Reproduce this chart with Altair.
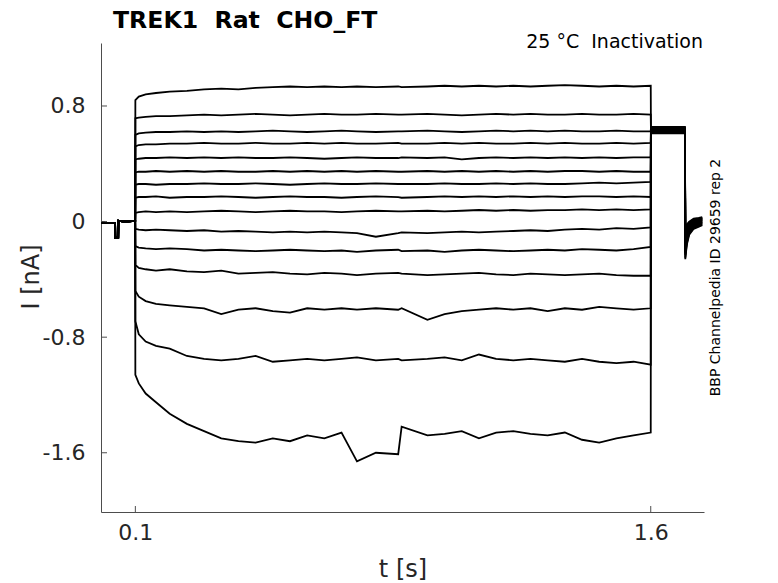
import altair as alt
import pandas as pd

TITLE = "TREK1\u00a0\u00a0Rat\u00a0\u00a0CHO_FT"
NOTE = "25\u00a0°C\u00a0\u00a0Inactivation"
SIDE = "BBP Channelpedia ID 29659 rep 2"

X_TICKS = [0.1, 1.6]
Y_TICKS = [0.8, 0, -0.8, -1.6]

# shared pre-step segment (holding)
T_PRE = [0.0, 0.02, 0.041, 0.0415, 0.050, 0.0505, 0.07, 0.0995]
V_PRE = [-0.005, -0.01, -0.01, -0.11, -0.11, 0.005, 0.0, 0.005]

# test step
T_STEP = [0.100, 0.110, 0.130, 0.160, 0.200, 0.250, 0.300, 0.350, 0.400, 0.450,
          0.500, 0.550, 0.600, 0.650, 0.700, 0.745, 0.800, 0.865, 0.875, 0.950,
          1.000, 1.050, 1.100, 1.150, 1.200, 1.250, 1.300, 1.350, 1.400, 1.450,
          1.500, 1.550, 1.600]

I1 = [0.84, 0.865, 0.88, 0.89, 0.90, 0.905, 0.915, 0.92, 0.915, 0.925,
      0.93, 0.935, 0.93, 0.935, 0.93, 0.935, 0.93, 0.935, 0.93, 0.935,
      0.94, 0.935, 0.94, 0.935, 0.94, 0.935, 0.94, 0.945, 0.94, 0.935,
      0.94, 0.935, 0.94]
I2 = [0.715, 0.72, 0.725, 0.73, 0.73, 0.735, 0.74, 0.735, 0.74, 0.745,
      0.74, 0.735, 0.74, 0.745, 0.74, 0.74, 0.745, 0.74, 0.74, 0.745,
      0.74, 0.735, 0.74, 0.745, 0.74, 0.745, 0.74, 0.74, 0.745, 0.74,
      0.74, 0.745, 0.74]
I3 = [0.60, 0.61, 0.615, 0.62, 0.62, 0.625, 0.62, 0.625, 0.62, 0.625,
      0.63, 0.625, 0.62, 0.625, 0.63, 0.625, 0.62, 0.625, 0.625, 0.63,
      0.625, 0.62, 0.625, 0.63, 0.625, 0.63, 0.625, 0.63, 0.625, 0.625,
      0.63, 0.625, 0.625]
I4 = [0.52, 0.53, 0.535, 0.535, 0.54, 0.54, 0.545, 0.54, 0.54, 0.545,
      0.54, 0.54, 0.545, 0.54, 0.545, 0.54, 0.54, 0.545, 0.54, 0.54,
      0.545, 0.54, 0.545, 0.54, 0.54, 0.545, 0.54, 0.545, 0.54, 0.54,
      0.545, 0.54, 0.545]
I5 = [0.43, 0.435, 0.44, 0.44, 0.445, 0.44, 0.445, 0.44, 0.445, 0.44,
      0.44, 0.445, 0.44, 0.435, 0.44, 0.445, 0.44, 0.44, 0.445, 0.44,
      0.445, 0.43, 0.44, 0.445, 0.44, 0.445, 0.44, 0.445, 0.44, 0.445,
      0.44, 0.445, 0.445]
I6 = [0.34, 0.345, 0.345, 0.35, 0.345, 0.35, 0.345, 0.35, 0.345, 0.345,
      0.35, 0.345, 0.35, 0.345, 0.35, 0.345, 0.35, 0.345, 0.345, 0.35,
      0.345, 0.35, 0.345, 0.35, 0.345, 0.35, 0.345, 0.35, 0.35, 0.345,
      0.35, 0.345, 0.345]
I7 = [0.255, 0.26, 0.26, 0.255, 0.26, 0.26, 0.265, 0.26, 0.26, 0.265,
      0.26, 0.255, 0.26, 0.265, 0.26, 0.26, 0.265, 0.26, 0.26, 0.26,
      0.265, 0.26, 0.26, 0.265, 0.26, 0.265, 0.26, 0.26, 0.265, 0.27,
      0.265, 0.27, 0.275]
I8 = [0.165, 0.17, 0.17, 0.175, 0.165, 0.17, 0.17, 0.175, 0.17, 0.165,
      0.17, 0.175, 0.17, 0.17, 0.165, 0.17, 0.175, 0.17, 0.165, 0.17,
      0.175, 0.17, 0.175, 0.17, 0.175, 0.17, 0.175, 0.17, 0.175, 0.175,
      0.17, 0.175, 0.17]
I9 = [0.06, 0.065, 0.07, 0.065, 0.07, 0.065, 0.07, 0.075, 0.07, 0.065,
      0.07, 0.075, 0.07, 0.07, 0.065, 0.07, 0.075, 0.07, 0.07, 0.075,
      0.07, 0.075, 0.08, 0.075, 0.08, 0.075, 0.08, 0.08, 0.085, 0.08,
      0.085, 0.08, 0.085]
I10 = [-0.05, -0.055, -0.06, -0.055, -0.06, -0.065, -0.06, -0.07, -0.065, -0.07,
       -0.075, -0.07, -0.075, -0.07, -0.075, -0.08, -0.105, -0.08, -0.075, -0.08,
       -0.075, -0.07, -0.075, -0.07, -0.065, -0.06, -0.065, -0.055, -0.05, -0.055,
       -0.045, -0.05, -0.04]
I11 = [-0.17, -0.18, -0.185, -0.19, -0.185, -0.19, -0.20, -0.195, -0.20, -0.205,
       -0.20, -0.195, -0.20, -0.205, -0.20, -0.21, -0.20, -0.195, -0.205, -0.20,
       -0.21, -0.20, -0.195, -0.20, -0.205, -0.20, -0.195, -0.20, -0.19, -0.195,
       -0.20, -0.19, -0.175]
I12 = [-0.30, -0.32, -0.33, -0.34, -0.33, -0.345, -0.35, -0.34, -0.36, -0.355,
       -0.35, -0.36, -0.365, -0.355, -0.36, -0.37, -0.36, -0.355, -0.36, -0.37,
       -0.365, -0.36, -0.355, -0.365, -0.37, -0.36, -0.365, -0.37, -0.365, -0.36,
       -0.37, -0.375, -0.375]
I13 = [-0.48, -0.52, -0.55, -0.57, -0.58, -0.59, -0.60, -0.64, -0.61, -0.60,
       -0.62, -0.63, -0.60, -0.61, -0.60, -0.61, -0.60, -0.61, -0.60, -0.68,
       -0.64, -0.62, -0.61, -0.60, -0.61, -0.60, -0.62, -0.60, -0.61, -0.59,
       -0.60, -0.61, -0.60]
I14 = [-0.69, -0.78, -0.83, -0.86, -0.88, -0.93, -0.95, -0.96, -0.95, -0.93,
       -0.97, -0.96, -0.95, -0.96, -0.95, -0.94, -0.96, -0.95, -0.96, -0.95,
       -0.94, -0.96, -0.92, -0.95, -0.96, -0.95, -0.96, -0.97, -0.95, -0.97,
       -0.98, -0.97, -0.99]
I15 = [-1.06, -1.12, -1.19, -1.25, -1.33, -1.40, -1.45, -1.50, -1.52, -1.53,
       -1.50, -1.52, -1.48, -1.50, -1.46, -1.66, -1.60, -1.61, -1.42, -1.48,
       -1.47, -1.45, -1.50, -1.46, -1.45, -1.47, -1.48, -1.46, -1.51, -1.53,
       -1.50, -1.48, -1.46]
STEPS = [I1, I2, I3, I4, I5, I6, I7, I8, I9, I10, I11, I12, I13, I14, I15]

# common tail step
T_HOLD = [1.6005, 1.6995]
HOLD_LEVEL = [0.655, 0.65, 0.645, 0.645, 0.64, 0.64, 0.635, 0.635,
              0.63, 0.63, 0.625, 0.625, 0.62, 0.615, 0.61]

# return to holding
T_POST = [1.7005, 1.705, 1.712, 1.725, 1.74, 1.75]
POST = [
    [-0.05, -0.02, 0.0, 0.02, 0.025, 0.03],
    [-0.07, -0.03, -0.005, 0.015, 0.02, 0.025],
    [-0.09, -0.04, -0.01, 0.01, 0.02, 0.02],
    [-0.10, -0.05, -0.015, 0.005, 0.015, 0.02],
    [-0.12, -0.06, -0.02, 0.0, 0.01, 0.015],
    [-0.13, -0.07, -0.03, -0.005, 0.01, 0.01],
    [-0.15, -0.08, -0.035, -0.01, 0.005, 0.01],
    [-0.16, -0.09, -0.04, -0.015, 0.0, 0.005],
    [-0.18, -0.10, -0.05, -0.02, -0.005, 0.0],
    [-0.19, -0.11, -0.055, -0.025, -0.01, 0.0],
    [-0.21, -0.12, -0.06, -0.03, -0.015, -0.005],
    [-0.22, -0.13, -0.07, -0.035, -0.02, -0.01],
    [-0.23, -0.14, -0.075, -0.04, -0.025, -0.015],
    [-0.25, -0.15, -0.08, -0.045, -0.03, -0.02],
    [-0.26, -0.16, -0.09, -0.05, -0.035, -0.025],
]

rows = []
for i, step in enumerate(STEPS):
    ts = T_PRE + T_STEP + T_HOLD + T_POST
    vs = V_PRE + step + [HOLD_LEVEL[i]] * len(T_HOLD) + POST[i]
    for k, (t, v) in enumerate(zip(ts, vs)):
        rows.append({"trace": i + 1, "k": k, "t": t, "I": v})
df = pd.DataFrame(rows)

AX = "#4d4d4d"
TXT = "#262626"
FONT = "DejaVu Sans"
W, H = 603, 469

x_scale = alt.Scale(domain=[0, 1.755], nice=False, zero=False)
y_scale = alt.Scale(domain=[-2.01, 1.236], nice=False, zero=False)

x_axis = alt.Axis(values=X_TICKS, title="t [s]", labelExpr="toString(datum.value)",
                  ticks=False, labelPadding=10, titleY=64, titleBaseline="alphabetic")
y_axis = alt.Axis(values=Y_TICKS, title="I [nA]", labelExpr="toString(datum.value)",
                  ticks=False, labelPadding=16, titleX=-63, titleY=233.5,
                  titleBaseline="alphabetic", titleAlign="center", titleAngle=270)

lines = alt.Chart(df).mark_line(color="black", strokeWidth=1.8, strokeJoin="miter").encode(
    x=alt.X("t:Q", scale=x_scale, axis=x_axis),
    y=alt.Y("I:Q", scale=y_scale, axis=y_axis),
    detail="trace:N",
    order="k:Q",
)

ytick = alt.Chart(pd.DataFrame({"I": Y_TICKS})).mark_rule(color=AX, strokeWidth=1).encode(
    y=alt.Y("I:Q", scale=y_scale, axis=y_axis), x=alt.value(0), x2=alt.value(6))
xtick = alt.Chart(pd.DataFrame({"t": X_TICKS})).mark_rule(color=AX, strokeWidth=1).encode(
    x=alt.X("t:Q", scale=x_scale, axis=x_axis), y=alt.value(H), y2=alt.value(H - 6))

title = alt.Chart(pd.DataFrame({"s": [TITLE]})).mark_text(
    font=FONT, fontSize=23.6, fontWeight="bold", color="black", align="left",
    baseline="alphabetic").encode(text="s:N", x=alt.value(12), y=alt.value(-15.5))
note = alt.Chart(pd.DataFrame({"s": [NOTE]})).mark_text(
    font=FONT, fontSize=19, color="black", align="right", baseline="alphabetic").encode(
    text="s:N", x=alt.value(602), y=alt.value(5))
side = alt.Chart(pd.DataFrame({"s": [SIDE]})).mark_text(
    font=FONT, fontSize=14, color="black", align="center", baseline="middle", angle=270).encode(
    text="s:N", x=alt.value(615), y=alt.value(H / 2))

chart = alt.layer(lines, ytick, xtick, title, note, side).properties(
    width=W, height=H,
    autosize=alt.AutoSizeParams(type="none"),
    padding={"left": 93, "top": 35, "right": 66, "bottom": 76},
).configure_view(stroke=None).configure_axis(
    domainColor=AX, domainWidth=1, grid=False,
    labelFont=FONT, labelFontSize=22, labelColor=TXT,
    titleFont=FONT, titleFontSize=24, titleColor=TXT, titleFontWeight="normal",
)

chart.save("out.html", embed_options={"renderer": "svg", "actions": False})
